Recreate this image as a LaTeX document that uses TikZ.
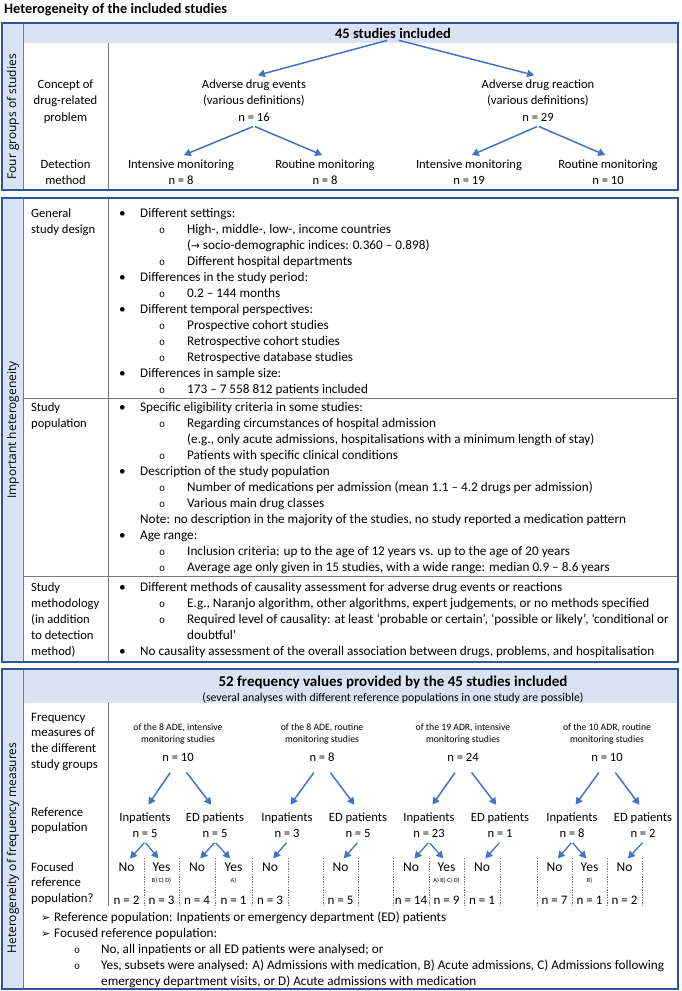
\documentclass[tikz,border=0pt]{standalone}
\usepackage{fontspec}
\setmainfont{Carlito}
\newfontfamily\osf{Open Sans}
\newfontfamily\djv{DejaVu Sans}
\newfontfamily\monof{Liberation Mono}
\usetikzlibrary{arrows.meta}
\definecolor{bdr}{RGB}{47,85,151}
\definecolor{lband}{RGB}{218,227,243}
\definecolor{abl}{RGB}{68,114,196}
\definecolor{gline}{RGB}{120,120,120}
\newcommand\fsA{\fontsize{12.6}{16.07}\selectfont}
\newcommand\fsL{\fontsize{13.2}{16.07}\selectfont}
\newcommand\fsB{\fontsize{12.6}{16.5}\selectfont}
\newcommand\fsC{\fontsize{12.8}{15.7}\selectfont}
\newcommand\fsH{\fontsize{14.5}{16}\selectfont}
\newcommand\fsS{\fontsize{9.7}{12}\selectfont}
\newcommand\fsT{\fontsize{6.3}{7}\selectfont}
\newcommand\fsV{\fontsize{12}{14}\selectfont}
\newcommand\cglyph{{\monof\fontsize{10}{10}\selectfont o}}
\newcommand\bu{\makebox[21pt][l]{\textbullet}}
\newcommand\ci{\hspace*{40pt}\makebox[28pt][l]{\cglyph}}
\newcommand\ind{\hspace*{68pt}}
\newcommand\ar{\makebox[13pt][l]{\djv\fontsize{11}{11}\selectfont ➢}}
\newcommand\cib{\hspace*{33pt}\makebox[27pt][l]{\cglyph}}
\newcommand\TL[1]{\begin{tabular}[t]{@{}l@{}}#1\end{tabular}}
\newcommand\TC[1]{\begin{tabular}[t]{@{}c@{}}#1\end{tabular}}
\begin{document}
\begin{tikzpicture}[x=1pt,y=-1pt,
  t/.style={inner sep=0pt, font=\fsA},
  tl/.style={inner sep=0pt, font=\fsL},
  tb/.style={inner sep=0pt, font=\fsB},
  vlab/.style={inner sep=0pt, font=\osf\fsV, rotate=90},
  band/.style={fill=lband, draw=none},
  sep/.style={draw=gline, line width=0.8pt},
  dotl/.style={draw=gline, line width=0.6pt, dash pattern=on 1.3pt off 1.3pt},
  frame/.style={draw=bdr, line width=2.6pt},
  arr/.style={draw=abl, line width=1.5pt, -{Triangle[length=7pt,width=7.5pt]}}
]
\useasboundingbox (0,0) rectangle (681,991);

% title
\node[t, font=\fontsize{14.3}{16}\selectfont\bfseries, anchor=base west] (title) at (4,13) {Heterogeneity of the included studies};

% ===== Section 1 =====
\fill[band] (2,23) rectangle (23,190);
\fill[band] (23,23) rectangle (678,43);
\draw[sep, line width=0.5pt] (23,23) -- (23,190);
\draw[sep] (108,43) -- (108,190);
\draw[frame] (2,23) rectangle (678,190);

\node[t, font=\fsH\bfseries, anchor=base] (n45) at (393,38.5) {45 studies included};
\node[vlab] (lab1) at (13,117) {Four groups of studies};
\node[tb, anchor=base] (cpt) at (65.5,88) {\TC{Concept of\\drug-related\\problem}};
\node[tb, anchor=base] (ade) at (254,88) {\TC{Adverse drug events\\(various definitions)\\n = 16}};
\node[tb, anchor=base] (adr) at (538,88) {\TC{Adverse drug reaction\\(various definitions)\\n = 29}};
\node[tb, anchor=base] (det) at (65.5,168) {\TC{Detection\\method}};
\node[tb, anchor=base] (d1) at (181,168) {\TC{Intensive monitoring\\n = 8}};
\node[tb, anchor=base] (d2) at (325,168) {\TC{Routine monitoring\\n = 8}};
\node[tb, anchor=base] (d3) at (469,168) {\TC{Intensive monitoring\\n = 19}};
\node[tb, anchor=base] (d4) at (608,168) {\TC{Routine monitoring\\n = 10}};

\draw[arr, shorten <=6pt, shorten >=4pt] (n45.south) -- (ade.north);
\draw[arr, shorten <=6pt, shorten >=4pt] (n45.south) -- (adr.north);
\draw[arr, shorten <=1pt, shorten >=3pt] (ade.south) -- (d1.north);
\draw[arr, shorten <=1pt, shorten >=3pt] (ade.south) -- (d2.north);
\draw[arr, shorten <=1pt, shorten >=3pt] (adr.south) -- (d3.north);
\draw[arr, shorten <=1pt, shorten >=3pt] (adr.south) -- (d4.north);

% ===== Section 2 =====
\fill[band] (2,198) rectangle (23,662);
\draw[sep, line width=0.5pt] (23,198) -- (23,662);
\draw[sep] (108,198) -- (108,662);
\draw[sep] (23,398) -- (678,398);
\draw[sep] (23,576) -- (678,576);
\draw[frame] (2,198) rectangle (678,662);

\node[vlab] (lab2) at (13,430) {Important heterogeneity};
\node[t, anchor=base west] (g1l) at (31,217) {\TL{General\\study design}};
\node[tl, anchor=base west] (g1) at (119,217) {\TL{%
\bu Different settings:\\
\ci High-, middle-, low-, income countries\\
\ind({\djv\fontsize{10.5}{10.5}\selectfont →} socio-demographic indices: 0.360 – 0.898)\\
\ci Different hospital departments\\
\bu Differences in the study period:\\
\ci 0.2 – 144 months\\
\bu Different temporal perspectives:\\
\ci Prospective cohort studies\\
\ci Retrospective cohort studies\\
\ci Retrospective database studies\\
\bu Differences in sample size:\\
\ci 173 – 7 558 812 patients included}};
\node[t, anchor=base west] (g2l) at (31,411) {\TL{Study\\population}};
\node[tl, anchor=base west] (g2) at (119,411) {\TL{%
\bu Specific eligibility criteria in some studies:\\
\ci Regarding circumstances of hospital admission\\
\ind(e.g., only acute admissions, hospitalisations with a minimum length of stay)\\
\ci Patients with specific clinical conditions\\
\bu Description of the study population\\
\ci Number of medications per admission (mean 1.1 – 4.2 drugs per admission)\\
\ci Various main drug classes\\
\hspace*{21pt}Note: no description in the majority of the studies, no study reported a medication pattern\\
\bu Age range:\\
\ci Inclusion criteria: up to the age of 12 years vs. up to the age of 20 years\\
\ci Average age only given in 15 studies, with a wide range: median 0.9 – 8.6 years}};
\node[t, anchor=base west] (g3l) at (31,591) {\TL{Study\\methodology\\(in addition\\to detection\\method)}};
\node[tl, anchor=base west] (g3) at (119,591) {\TL{%
\bu Different methods of causality assessment for adverse drug events or reactions\\
\ci E.g., Naranjo algorithm, other algorithms, expert judgements, or no methods specified\\
\ci Required level of causality: at least ‘probable or certain’, ‘possible or likely’, ‘conditional or\\
\ind doubtful’\\
\bu No causality assessment of the overall association between drugs, problems, and hospitalisation}};

% ===== Section 3 =====
\fill[band] (2,669) rectangle (23,989);
\fill[band] (23,669) rectangle (678,703);
\draw[sep, line width=0.5pt] (23,669) -- (23,989);
\draw[sep] (108,703) -- (108,906);
\foreach \x in {144,179,215,252,288,323,358,393,429,464,500,537,572,607,642}
  \draw[dotl] (\x,858) -- (\x,906);
\draw[frame] (2,669) rectangle (678,989);

\node[t, font=\fontsize{15}{16}\selectfont\bfseries, anchor=base] (h52) at (393,686.5) {52 frequency values provided by the 45 studies included};
\node[t, font=\fontsize{11.8}{14}\selectfont, anchor=base] (h52b) at (393,701) {(several analyses with different reference populations in one study are possible)};
\node[vlab] (lab3) at (13,848) {Heterogeneity of frequency measures};

\node[t, font=\fsC, anchor=base west] (f1l) at (31,721) {\TL{Frequency\\measures of\\the different\\study groups}};
\node[t, font=\fsC, anchor=base west] (f2l) at (31,816) {\TL{Reference\\population}};
\node[t, font=\fsC, anchor=base west] (f3l) at (31,871) {\TL{Focused\\reference\\population?}};

\node[t, font=\fsS, anchor=base] (gh1) at (178,730) {\TC{of the 8 ADE, intensive\\monitoring studies}};
\node[t, font=\fsS, anchor=base] (gh2) at (322,730) {\TC{of the 8 ADE, routine\\monitoring studies}};
\node[t, font=\fsS, anchor=base] (gh3) at (463,730) {\TC{of the 19 ADR, intensive\\monitoring studies}};
\node[t, font=\fsS, anchor=base] (gh4) at (607,730) {\TC{of the 10 ADR, routine\\monitoring studies}};
\node[t, anchor=base] (gn1) at (178,761) {n = 10};
\node[t, anchor=base] (gn2) at (322,761) {n = 8};
\node[t, anchor=base] (gn3) at (463,761) {n = 24};
\node[t, anchor=base] (gn4) at (607,761) {n = 10};

\node[t, anchor=base] (rp1) at (145,821) {\TC{Inpatients\\n = 5}};
\node[t, anchor=base] (rp2) at (215,821) {\TC{ED patients\\n = 5}};
\node[t, anchor=base] (rp3) at (287,821) {\TC{Inpatients\\n = 3}};
\node[t, anchor=base] (rp4) at (358,821) {\TC{ED patients\\n = 5}};
\node[t, anchor=base] (rp5) at (429,821) {\TC{Inpatients\\n = 23}};
\node[t, anchor=base] (rp6) at (500,821) {\TC{ED patients\\n = 1}};
\node[t, anchor=base] (rp7) at (572,821) {\TC{Inpatients\\n = 8}};
\node[t, anchor=base] (rp8) at (643,821) {\TC{ED patients\\n = 2}};

\foreach \g/\a/\b in {1/1/2, 2/3/4, 3/5/6, 4/7/8} {
  \draw[arr, shorten <=14pt, shorten >=6pt] (gn\g.south) -- (rp\a.north);
  \draw[arr, shorten <=14pt, shorten >=6pt] (gn\g.south) -- (rp\b.north);
}

% focused cells
\foreach \i/\x/\w/\n in {1/126.5/No/2, 2/161.5/Yes/3, 3/197/No/4, 4/233.5/Yes/1, 5/270/No/3, 6/340.5/No/5,
  7/411/No/14, 8/446.5/Yes/9, 9/482/No/1, 10/554.5/No/7, 11/589.5/Yes/1, 12/624.5/No/2} {
  \node[t, font=\fontsize{13.5}{16}\selectfont, anchor=base] (c\i) at (\x,871) {\w};
  \node[t, font=\fontsize{13}{16}\selectfont, anchor=base] (v\i) at (\x,904) {n = \n};
}
\node[t, font=\fsT, anchor=base] (s2) at (161.5,882) {B) C) D)};
\node[t, font=\fsT, anchor=base] (s4) at (233.5,882) {A)};
\node[t, font=\fsT, anchor=base] (s8) at (446.5,882) {A) B) C) D)};
\node[t, font=\fsT, anchor=base] (s11) at (589.5,882) {B)};

\foreach \r/\c in {1/1, 1/2, 2/3, 2/4, 3/5, 4/6, 5/7, 5/8, 6/9, 7/10, 7/11, 8/12}
  \draw[arr, line width=1.3pt, shorten <=1pt, shorten >=5pt] (rp\r.south) -- (c\c.north);

\node[tl, anchor=base west] (notes) at (41,921) {\TL{%
\ar Reference population: Inpatients or emergency department (ED) patients\\
\ar Focused reference population:\\
\cib No, all inpatients or all ED patients were analysed; or\\
\cib Yes, subsets were analysed: A) Admissions with medication, B) Acute admissions, C) Admissions following\\
\hspace*{60pt}emergency department visits, or D) Acute admissions with medication}};
\end{tikzpicture}
\end{document}
